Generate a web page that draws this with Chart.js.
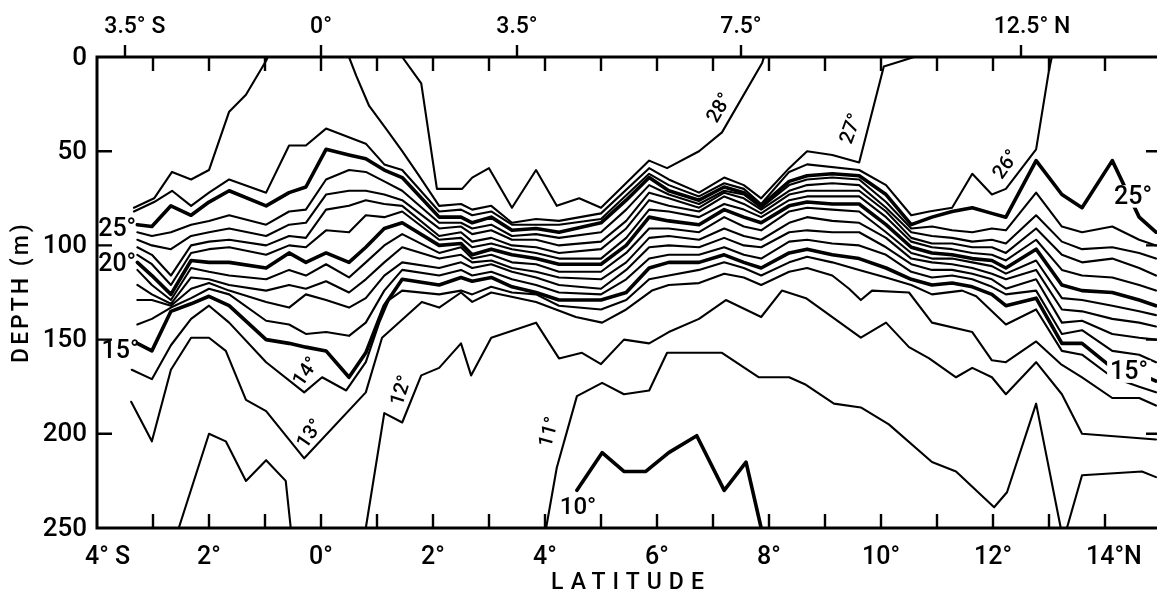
<!DOCTYPE html>
<html>
<head>
<meta charset="utf-8">
<script src="https://cdn.jsdelivr.net/npm/chart.js@4.4.1/dist/chart.umd.min.js"></script>
<style>
  html, body { margin: 0; padding: 0; background: #fff; overflow: hidden; }
  #wrap { width: 1157px; height: 598px; overflow: hidden; }
  canvas { display: block; }
</style>
</head>
<body>
<div id="wrap"><canvas id="chart" width="1165" height="598"></canvas></div>
<script>
// --- DATA: latitude (deg, S negative) vs depth (m) ---

// stations where the thermocline isotherms are read
const stationLat = [-3.28,-3.02,-2.68,-2.32,-2.00,-1.64,-0.98,-0.57,-0.27,0.09,0.50,0.80,1.13,1.45,2.11,2.50,2.70,3.04,3.41,3.84,4.25,5.00,5.45,5.86,6.21,6.75,7.20,7.55,7.86,8.36,8.68,9.13,9.61,10.09,10.54,10.91,11.27,11.63,11.98,12.23,12.77,13.23,13.59,14.13,14.61,14.91];

const t25 = [89,90,79,84,77,71,79,72,69,49,52,54,60,64,85,85,88,85,92,91,93,88,76,64,71,76,69,72,79,66,63,62,63,73,89,85,82,80,83,85,55,73,80,55,85,93];
const t24 = [93,95,93,89,87,84,89,82,81,65,60,61,66,71,88,88,91,89,95,94,96,93,81,68,73,78,71,73,80,68,65,64,65,77,91,90,92,93,91,92,72,90,93,90,97,100];
const t23 = [97,100,102,95,93,91,95,89,88,73,71,71,73,76,91,90,94,92,97,97,100,98,87,72,75,80,72,75,81,71,68,67,68,80,93,95,96,98,97,99,84,98,102,101,104,107];
const t22 = [101,105,116,100,98,97,100,95,96,81,79,76,78,79,95,93,98,96,100,101,104,102,91,76,79,82,74,78,83,73,71,71,71,82,96,99,99,101,101,104,91,105,109,107,112,116];
const t21 = [105,110,121,104,102,101,105,100,101,92,93,84,85,82,97,96,101,99,102,104,107,107,96,81,82,85,78,81,85,76,74,74,74,85,98,101,102,104,105,108,97,113,116,117,121,124];
const t20 = [109,116,126,108,109,109,112,104,109,104,109,101,91,88,100,99,105,102,105,107,110,110,100,85,87,89,81,85,88,79,77,78,78,89,101,104,105,107,108,112,102,121,124,125,129,132];
const t19 = [113,121,129,112,114,116,118,113,116,110,117,109,100,94,104,101,107,105,109,110,114,114,104,91,91,93,85,90,92,82,80,81,82,93,104,107,107,109,111,115,108,128,129,132,135,137];
const t18 = [121,126,131,117,118,121,124,121,123,119,125,118,109,101,107,105,109,108,112,114,117,118,109,96,95,97,91,95,97,88,85,87,88,96,107,109,110,112,115,118,113,134,135,139,141,143];
const t17 = [129,129,132,123,120,124,130,133,126,129,133,128,116,109,112,109,112,110,114,117,121,123,113,101,100,101,96,100,101,93,92,93,93,101,110,113,113,115,118,123,118,141,140,147,149,150];
const t16 = [142,139,133,128,123,126,140,142,147,146,148,141,124,113,116,113,116,114,118,121,125,126,118,107,105,105,101,105,107,98,97,99,100,105,114,117,116,118,122,126,124,147,145,156,158,162];
const t15 = [152,156,135,131,127,132,150,152,154,156,170,157,132,118,121,117,119,117,122,125,129,129,125,112,109,109,105,109,112,104,102,105,107,112,118,121,120,122,126,132,128,152,152,165,168,172];

// isotherms with their own points [lat, depth]
const t28 = [[1.45,0],[1.79,14],[2.07,70],[2.52,70],[2.70,64],[3.00,59],[3.41,80],[3.84,60],[4.21,79],[4.61,75],[5.00,80],[5.86,55],[6.18,59],[6.75,50],[7.16,40],[7.88,3],[7.91,0]];
const t27south = [[-3.34,80],[-2.98,75],[-2.66,61],[-2.32,65],[-2.00,60],[-1.64,29],[-1.34,20],[-0.98,2],[-0.95,0]];
const t27 = [[0.50,0],[0.63,10],[0.86,26],[1.16,38],[1.45,50],[1.75,63],[2.11,79],[2.50,78],[2.70,81],[3.04,79],[3.41,88],[3.84,86],[4.25,87],[5.00,83],[5.86,59],[6.21,65],[6.75,72],[7.20,64],[7.55,68],[7.86,75],[8.36,59],[8.68,50],[9.13,52],[9.61,56],[10.05,5],[10.38,2],[10.59,0]];
const t26 = [[-3.34,82],[-2.98,77],[-2.66,71],[-2.32,79],[-2.00,72],[-1.64,65],[-0.98,72],[-0.57,47],[-0.27,47],[0.09,38],[0.80,46],[1.13,57],[1.45,60],[2.11,82],[2.50,81],[2.70,84],[3.04,82],[3.41,89],[4.25,89],[5.00,86],[5.86,62],[6.21,68],[6.75,74],[7.20,67],[7.55,70],[7.86,78],[8.36,61],[8.68,57],[9.61,60],[10.09,68],[10.54,84],[10.86,82],[11.27,80],[11.63,62],[11.98,73],[12.23,70],[12.77,49],[13.00,7],[13.05,0]];
const t14 = [[-3.38,166],[-3.02,171],[-2.68,153],[-2.32,139],[-2.00,132],[-1.64,141],[-0.98,162],[-0.30,178],[0.02,170],[0.45,177],[0.80,162],[1.04,141],[1.21,129],[1.45,124],[2.11,126],[2.50,124],[2.70,126],[3.04,122],[3.41,125],[3.84,126],[4.25,132],[5.00,134],[5.45,129],[5.86,118],[6.21,116],[6.75,113],[7.20,109],[7.55,112],[7.86,116],[8.36,109],[8.68,106],[9.13,109],[9.61,113],[10.09,117],[10.54,121],[10.91,126],[11.45,124],[11.70,127],[12.23,142],[12.77,134],[13.23,156],[13.59,158],[14.13,170],[14.61,175],[14.91,178]];
const t13 = [[-3.39,183],[-3.02,204],[-2.68,166],[-2.32,149],[-2.00,149],[-1.70,156],[-1.34,182],[-0.98,188],[-0.30,213],[0.80,178],[1.09,149],[1.80,130],[2.11,133],[2.50,125],[2.70,130],[3.04,125],[3.36,127],[3.84,130],[4.55,138],[5.02,141],[5.45,134],[5.91,124],[6.21,121],[6.75,120],[7.20,115],[7.55,117],[7.86,121],[8.36,114],[8.68,112],[9.13,116],[9.43,123],[9.64,129],[9.84,124],[10.50,125],[10.91,141],[11.63,146],[11.98,161],[12.23,162],[12.77,151],[13.21,163],[13.59,170],[14.13,181],[14.61,181],[14.91,185]];
const t12 = [[0.80,250],[1.13,189],[1.45,194],[1.79,169],[2.11,165],[2.50,152],[2.68,169],[3.04,149],[3.84,141],[4.25,160],[4.66,157],[5.00,163],[5.41,150],[5.86,152],[6.21,146],[6.75,139],[7.23,129],[7.86,138],[8.23,124],[8.66,128],[9.64,149],[10.09,141],[10.50,154],[10.86,160],[11.34,170],[11.63,165],[11.98,170],[12.23,179],[12.77,162],[13.23,179],[13.59,200],[14.91,203]];
const t12south = [[-2.54,250],[-2.00,200],[-1.70,204],[-1.34,225],[-0.98,214],[-0.63,225],[-0.54,250]];
const t11 = [[4.02,250],[4.21,218],[4.57,180],[5.02,173],[5.41,179],[5.86,177],[6.18,157],[7.16,157],[7.82,170],[8.36,170],[8.66,174],[9.16,184],[9.64,186],[10.14,195],[10.91,215],[11.34,220],[12.02,239],[12.25,231],[12.77,184],[13.21,250]];
const t11north = [[13.32,250],[13.59,222],[14.66,220],[14.91,223]];
const t10 = [[4.57,230],[5.02,210],[5.41,220],[5.80,220],[6.21,210],[6.71,201],[7.20,230],[7.59,215],[7.86,250]];

// axes
const latTicks = [-3,-2,-1,0,1,2,3,4,5,6,7,8,9,10,11,12,13,14];
const latLabelVals = [-4,-2,0,2,4,6,8,10,12,14];
const latLabelText = ['4° S','2°','0°','2°','4°','6°','8°','10°','12°','14°N'];
const topLabelVals = [-3.5,0,3.5,7.5,12.5];
const topLabelText = ['3.5° S','0°','3.5°','7.5°','12.5° N'];
const depthTicks = [50,100,150,200];
const depthLabels = [0,50,100,150,200,250];

// contour labels: text, lat, depth, rotation (deg), size, white box
const isoLabels = [
  ['25°',-3.64,91,0,25,false],
  ['20°',-3.64,110,0,25,false],
  ['15°',-3.58,156,0,25,false],
  ['14°',-0.27,167,-55,20,false],
  ['13°',-0.20,200,-55,20,false],
  ['12°',1.43,177,-72,20,false],
  ['11°',4.07,199,-75,20,false],
  ['10°',4.59,239,0,24,false],
  ['28°',7.11,27,-60,20,false],
  ['27°',9.46,38,-70,20,false],
  ['26°',12.23,57,-55,20,false],
  ['25°',14.50,74,0,25,true],
  ['15°',14.43,167,0,25,true]
];

const FONT = "Roboto, 'Liberation Sans', Arial, sans-serif";
const THIN = 2.1, HEAVY = 3.6;

// --- DATASETS ---
const datasets = [];
function addLine(pts, w) {
  datasets.push({
    data: pts.map(p => ({ x: p[0], y: p[1] })),
    showLine: true, pointRadius: 0, fill: false, tension: 0,
    borderColor: '#000', borderWidth: w,
    borderJoinStyle: 'round', borderCapStyle: 'round'
  });
}
const bundle = [[t25,HEAVY],[t24,THIN],[t23,THIN],[t22,THIN],[t21,THIN],[t20,HEAVY],[t19,THIN],[t18,THIN],[t17,THIN],[t16,THIN],[t15,HEAVY]];
bundle.forEach(([vals, w]) => addLine(stationLat.map((lat, i) => [lat, vals[i]]), w));
addLine(t28, THIN);
addLine(t27south, THIN);
addLine(t27, THIN);
addLine(t26, THIN);
addLine(t14, THIN);
addLine(t13, THIN);
addLine(t12, THIN);
addLine(t12south, THIN);
addLine(t11, THIN);
addLine(t11north, THIN);
addLine(t10, HEAVY);

// --- FRAME, TICKS AND TEXT ---
function drawLatLabel(ctx, txt, x, y) {
  const m = txt.match(/^(.*°)\s?([NS]?)$/);
  const w = ctx.measureText(m[1]).width;
  ctx.textAlign = 'left';
  ctx.fillText(txt, x - w / 2, y);
}

const frame = {
  id: 'frame',
  afterDraw(chart) {
    const ctx = chart.ctx;
    const xs = chart.scales.x, ys = chart.scales.y;
    const a = chart.chartArea;
    ctx.save();
    ctx.strokeStyle = '#000';
    ctx.fillStyle = '#000';

    // isotherm labels
    isoLabels.forEach(([t, lat, d, rot, size, box]) => {
      const x = xs.getPixelForValue(lat), y = ys.getPixelForValue(d);
      ctx.save();
      ctx.translate(x, y);
      ctx.rotate(rot * Math.PI / 180);
      ctx.font = '500 ' + size + 'px ' + FONT;
      ctx.textAlign = 'center';
      ctx.textBaseline = 'middle';
      if (box) {
        const w = ctx.measureText(t).width;
        ctx.fillStyle = '#fff';
        ctx.fillRect(-w / 2 - 3, -size * 0.45, w + 6, size * 0.9);
        ctx.fillStyle = '#000';
      }
      ctx.fillText(t, 0, 1);
      ctx.restore();
    });

    // frame
    ctx.lineWidth = 3;
    ctx.strokeRect(a.left, a.top, a.right - a.left, a.bottom - a.top);

    // ticks
    ctx.lineWidth = 2.4;
    ctx.beginPath();
    latTicks.forEach(v => {
      const x = xs.getPixelForValue(v);
      ctx.moveTo(x, a.bottom); ctx.lineTo(x, a.bottom - 14);
      ctx.moveTo(x, a.top); ctx.lineTo(x, a.top + 14);
    });
    topLabelVals.forEach(v => {
      const x = xs.getPixelForValue(v);
      ctx.moveTo(x, a.top); ctx.lineTo(x, a.top - 12);
    });
    depthTicks.forEach(v => {
      const y = ys.getPixelForValue(v);
      ctx.moveTo(a.left, y); ctx.lineTo(a.left + 15, y);
      ctx.moveTo(a.right, y); ctx.lineTo(a.right - 15, y);
    });
    ctx.stroke();

    // tick labels
    ctx.textBaseline = 'middle';
    ctx.font = '500 25px ' + FONT;
    latLabelVals.forEach((v, i) => drawLatLabel(ctx, latLabelText[i], xs.getPixelForValue(v), a.bottom + 30));
    ctx.font = '500 23px ' + FONT;
    topLabelVals.forEach((v, i) => drawLatLabel(ctx, topLabelText[i], xs.getPixelForValue(v), a.top - 30));
    ctx.font = '500 26px ' + FONT;
    ctx.textAlign = 'right';
    depthLabels.forEach(v => ctx.fillText(String(v), a.left - 10, ys.getPixelForValue(v) + 1));

    // axis titles
    ctx.font = '500 23px ' + FONT;
    ctx.textAlign = 'center';
    ctx.letterSpacing = '7px';
    ctx.fillText('LATITUDE', 631, 583);
    ctx.save();
    ctx.translate(22, 292);
    ctx.rotate(-Math.PI / 2);
    ctx.letterSpacing = '3px';
    ctx.fillText('DEPTH (m)', 0, 0);
    ctx.restore();
    ctx.restore();
  }
};

new Chart(document.getElementById('chart'), {
  type: 'scatter',
  data: { datasets },
  options: {
    responsive: false,
    animation: false,
    devicePixelRatio: 1,
    layout: { padding: { left: 97, top: 57, right: 4, bottom: 70 } },
    plugins: { legend: { display: false }, tooltip: { enabled: false } },
    scales: {
      x: { type: 'linear', min: -4, max: 15, display: false },
      y: { type: 'linear', min: 0, max: 250, reverse: true, display: false }
    }
  },
  plugins: [frame]
});
</script>
</body>
</html>
